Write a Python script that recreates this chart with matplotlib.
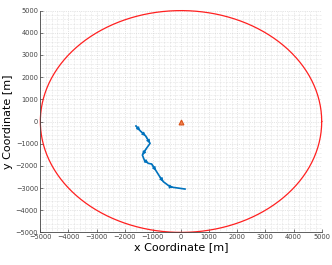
import numpy as np
import matplotlib
matplotlib.use("Agg")
import matplotlib.pyplot as plt
from matplotlib.ticker import MultipleLocator

# data
radius = 5000
bs_x = [0]
bs_y = [0]
track_x = [-1600, -1450, -1256, -1100, -1250, -1374, -1300, -1161, -1043, -889, -750, -628, -391, -273, 142]
track_y = [-203, -420, -654, -985, -1250, -1511, -1750, -1887, -1917, -2218, -2500, -2714, -2940, -2970, -3045]
arrow_idx = [1, 2, 3, 5, 7, 9, 11, 13]
ticks = list(range(-5000, 5001, 1000))

theta = np.linspace(0, 2 * np.pi, 400)

fig = plt.figure(figsize=(3.32, 2.65), dpi=100)
ax = fig.add_axes([0.1215, 0.123, 0.8475, 0.837])

ax.plot(radius * np.cos(theta), radius * np.sin(theta), color="#ff2020", lw=0.9, clip_on=False)
ax.plot(track_x, track_y, color="#0072BD", lw=1.2)
for i in arrow_idx:
    ax.annotate("", xy=(track_x[i], track_y[i]), xytext=(track_x[i - 1], track_y[i - 1]),
                arrowprops=dict(arrowstyle="-|>", color="#0072BD", lw=0.8,
                                mutation_scale=5, shrinkA=0, shrinkB=0))
ax.plot(bs_x, bs_y, marker="^", ms=3.5, color="#F08050", mec="#D95319", mew=0.8, ls="none")

ax.set_xlim(-5000, 5000)
ax.set_ylim(-5000, 5000)
ax.set_xticks(ticks)
ax.set_yticks(ticks)
ax.xaxis.set_minor_locator(MultipleLocator(200))
ax.yaxis.set_minor_locator(MultipleLocator(200))
ax.grid(which="major", color="#cccccc", lw=0.5, ls=":")
ax.grid(which="minor", color="#cccccc", lw=0.4, ls=":")
ax.tick_params(which="both", direction="in", labelsize=4.8, labelcolor="#444444",
               length=2, width=0.5, color="#444444", pad=1.5)
ax.tick_params(which="minor", length=0)
for s in ["top", "right"]:
    ax.spines[s].set_visible(False)
for s in ["left", "bottom"]:
    ax.spines[s].set_linewidth(0.6)
    ax.spines[s].set_color("#444444")

ax.set_xlabel("x Coordinate [m]", fontsize=8, labelpad=1)
ax.set_ylabel("y Coordinate [m]", fontsize=8, labelpad=2)

fig.savefig("out.png", dpi=100)
